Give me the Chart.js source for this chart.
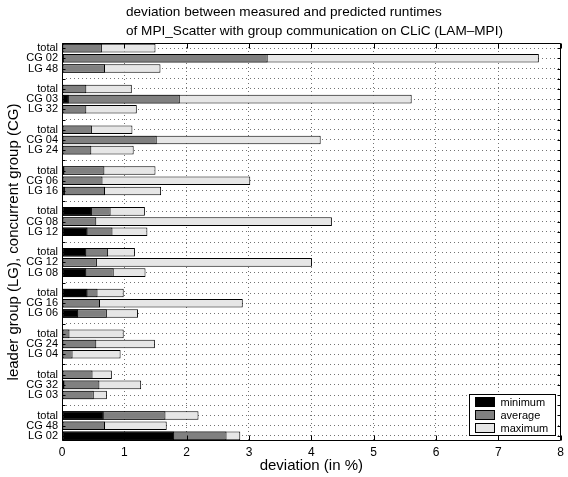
<!DOCTYPE html>
<html>
<head>
<meta charset="utf-8">
<title>MPI_Scatter deviation</title>
<script src="https://cdn.jsdelivr.net/npm/chart.js@4.4.0/dist/chart.umd.min.js"></script>
<style>
  html, body { margin: 0; padding: 0; background: #ffffff; }
  #wrap { width: 568px; height: 477px; }
</style>
</head>
<body>
<div id="wrap"><canvas id="chart" width="568" height="477"></canvas></div>
<script>
// rows, top to bottom, three per configuration
const rowLabels = [
  "total", "CG 02", "LG 48",
  "total", "CG 03", "LG 32",
  "total", "CG 04", "LG 24",
  "total", "CG 06", "LG 16",
  "total", "CG 08", "LG 12",
  "total", "CG 12", "LG 08",
  "total", "CG 16", "LG 06",
  "total", "CG 24", "LG 04",
  "total", "CG 32", "LG 03",
  "total", "CG 48", "LG 02",
];

// deviation in %
const minimum = [
  0.00, 0.03, 0.00,
  0.00, 0.11, 0.00,
  0.00, 0.02, 0.00,
  0.04, 0.00, 0.05,
  0.48, 0.00, 0.41,
  0.39, 0.00, 0.39,
  0.41, 0.00, 0.26,
  0.00, 0.00, 0.00,
  0.00, 0.04, 0.00,
  0.67, 0.00, 1.80,
];
const average = [
  0.64, 3.30, 0.69,
  0.39, 1.89, 0.39,
  0.48, 1.52, 0.47,
  0.68, 0.65, 0.69,
  0.78, 0.55, 0.81,
  0.74, 0.56, 0.83,
  0.57, 0.61, 0.72,
  0.12, 0.55, 0.17,
  0.49, 0.60, 0.51,
  1.66, 0.69, 2.64,
];
const maximum = [
  1.50, 7.65, 1.58,
  1.12, 5.61, 1.20,
  1.13, 4.15, 1.15,
  1.50, 3.02, 1.59,
  1.33, 4.33, 1.37,
  1.17, 4.01, 1.34,
  0.99, 2.90, 1.22,
  0.99, 1.49, 0.94,
  0.80, 1.27, 0.72,
  2.19, 1.68, 2.86,
];

const titleLines = [
  "deviation between measured and predicted runtimes",
  "of MPI_Scatter with group communication on CLiC (LAM\u2013MPI)",
];

const FONT = '"Liberation Sans", Arial, Helvetica, sans-serif';
Chart.defaults.font.family = FONT;
Chart.defaults.color = "#000000";

// insert an empty row between groups of three
function withGaps(values, filler) {
  const out = [];
  values.forEach((v, i) => {
    if (i > 0 && i % 3 === 0) out.push(filler);
    out.push(v);
  });
  return out;
}

const labels = withGaps(rowLabels, "");

const barStyle = {
  borderColor: "#000000",
  borderWidth: 1,
  borderSkipped: false,
  grouped: false,
  categoryPercentage: 1.0,
  barPercentage: 0.84,
};

// title, axes box with inward ticks, legend in the lower right corner
const decorations = {
  id: "decorations",
  afterDraw(chart) {
    const { ctx, chartArea: a, scales } = chart;
    ctx.save();

    ctx.fillStyle = "#000000";
    ctx.font = "13.6px " + FONT;
    ctx.textAlign = "left";
    ctx.textBaseline = "middle";
    ctx.fillText(titleLines[0], 126, 12);
    ctx.fillText(titleLines[1], 126, 31);

    ctx.strokeStyle = "#000000";
    ctx.lineWidth = 1;
    const L = Math.round(a.left) + 0.5, R = Math.round(a.right) - 0.5;
    const T = Math.round(a.top) + 0.5, B = Math.round(a.bottom) - 0.5;
    ctx.beginPath();
    ctx.rect(L, T, R - L, B - T);
    scales.x.ticks.forEach((t, i) => {
      const px = Math.round(scales.x.getPixelForTick(i)) + 0.5;
      ctx.moveTo(px, B); ctx.lineTo(px, B - 5);
      ctx.moveTo(px, T); ctx.lineTo(px, T + 5);
    });
    scales.y.ticks.forEach((t, i) => {
      const py = Math.round(scales.y.getPixelForTick(i)) + 0.5;
      ctx.moveTo(L, py); ctx.lineTo(L + 3, py);
      ctx.moveTo(R, py); ctx.lineTo(R - 3, py);
    });
    ctx.stroke();

    const boxR = Math.round(a.right) - 5.5, boxB = Math.round(a.bottom) - 5.5;
    const boxW = 86, boxH = 41;
    ctx.fillStyle = "#ffffff";
    ctx.fillRect(boxR - boxW, boxB - boxH, boxW, boxH);
    ctx.strokeRect(boxR - boxW, boxB - boxH, boxW, boxH);
    ctx.font = "11px " + FONT;
    chart.data.datasets.forEach((ds, i) => {
      const cy = boxB - boxH + 7.5 + i * 13;
      ctx.fillStyle = ds.backgroundColor;
      ctx.fillRect(boxR - boxW + 6, cy - 4.5, 19, 9);
      ctx.strokeRect(boxR - boxW + 6, cy - 4.5, 19, 9);
      ctx.fillStyle = "#000000";
      ctx.fillText(ds.label, boxR - boxW + 31, cy + 0.5);
    });
    ctx.restore();
  },
};

new Chart(document.getElementById("chart"), {
  type: "bar",
  data: {
    labels: labels,
    datasets: [
      { label: "minimum", data: withGaps(minimum, null), backgroundColor: "#000000", ...barStyle },
      { label: "average", data: withGaps(average, null), backgroundColor: "#808080", ...barStyle },
      { label: "maximum", data: withGaps(maximum, null), backgroundColor: "#e6e6e6", ...barStyle },
    ],
  },
  options: {
    indexAxis: "y",
    responsive: false,
    animation: false,
    layout: { padding: { top: 43, right: 4, left: 0, bottom: 0 } },
    plugins: {
      legend: { display: false },
      title: { display: false },
      tooltip: { enabled: false },
    },
    scales: {
      x: {
        min: 0,
        max: 8,
        ticks: { stepSize: 1, font: { size: 12 }, padding: 4, maxRotation: 0 },
        grid: { color: "rgba(0,0,0,0.55)", drawTicks: false },
        border: { display: false, dash: [1, 3] },
        title: {
          display: true,
          text: "deviation (in %)",
          font: { size: 15 },
          padding: { top: 0, bottom: 2 },
        },
        afterFit(scale) { scale.height = 36; },
      },
      y: {
        type: "category",
        ticks: { autoSkip: false, font: { size: 11 }, padding: 4 },
        grid: { offset: false, color: "rgba(0,0,0,0.55)", drawTicks: false },
        border: { display: false, dash: [1, 3] },
        title: {
          display: true,
          text: "leader group (LG), concurrent group (CG)",
          font: { size: 15 },
          padding: { top: 5, bottom: 0 },
        },
        afterFit(scale) { scale.width = 62; },
      },
    },
  },
  plugins: [decorations],
});
</script>
</body>
</html>
